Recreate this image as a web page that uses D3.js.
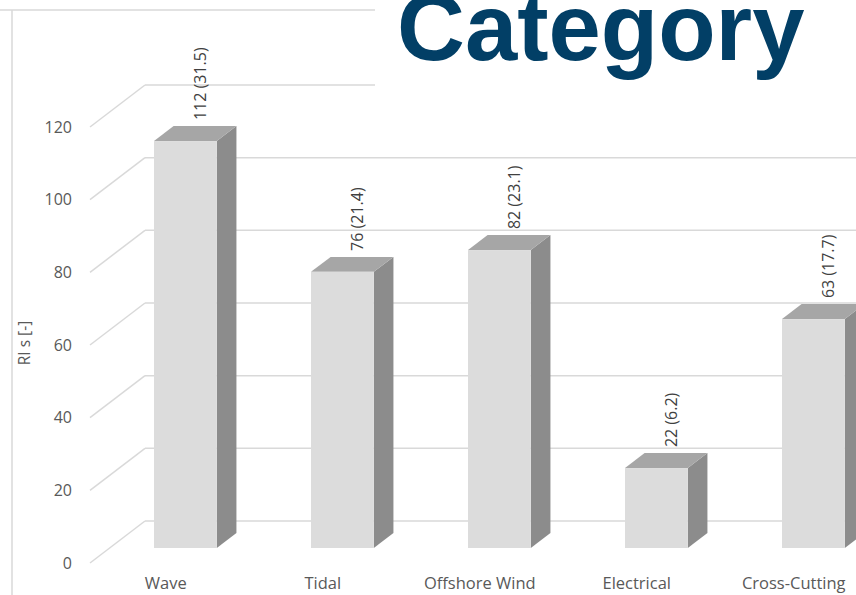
<!DOCTYPE html>
<html>
<head>
<meta charset="utf-8">
<script src="https://cdn.jsdelivr.net/npm/d3@7/dist/d3.min.js"></script>
<style>
  html, body { margin: 0; padding: 0; background: #fff; }
  svg { display: block; }
</style>
</head>
<body>
<svg id="chart" width="856" height="595"></svg>
<script>
// ---- data ----
const categories = ["Wave", "Tidal", "Offshore Wind", "Electrical", "Cross-Cutting"];
const values = [112, 76, 82, 22, 63];
const percents = ["31.5", "21.4", "23.1", "6.2", "17.7"];
const yTicks = [0, 20, 40, 60, 80, 100, 120];
const yTitle = "RI s [-]";
const titleText = "Category";

// ---- layout ----
const W = 856, H = 595;
const svg = d3.select("#chart");

// back wall vertical scale
const y = d3.scaleLinear().domain([0, 120]).range([521, 85]);
// oblique depth: full floor depth shift
const depthDx = 55, depthDy = 42;
const floorFrontX = 90;
// bar plane band scale (x at bar front plane)
const x = d3.scaleBand().domain(categories).range([106.9, 891.9]).paddingInner(0.6).paddingOuter(0.3);
const barD0 = 0.357, barD1 = 0.714;

const grid = "#d9d9d9";

// chart border lines
svg.append("line").attr("x1", 0).attr("x2", 375).attr("y1", 10).attr("y2", 10)
  .attr("stroke", grid).attr("stroke-width", 1.5);
svg.append("line").attr("x1", 12).attr("x2", 12).attr("y1", 10).attr("y2", H)
  .attr("stroke", grid).attr("stroke-width", 1.5);

// gridlines: back wall horizontal + left side wall diagonal
const gG = svg.append("g");
yTicks.forEach(t => {
  gG.append("line")
    .attr("x1", floorFrontX + depthDx).attr("x2", W + 10)
    .attr("y1", y(t)).attr("y2", y(t))
    .attr("stroke", grid).attr("stroke-width", 1.5);
  gG.append("line")
    .attr("x1", floorFrontX).attr("y1", y(t) + depthDy)
    .attr("x2", floorFrontX + depthDx).attr("y2", y(t))
    .attr("stroke", grid).attr("stroke-width", 1.5);
});

// tick labels
svg.append("g").selectAll("text").data(yTicks).join("text")
  .attr("x", 72).attr("y", d => y(d) + depthDy)
  .attr("dy", "0.35em")
  .attr("text-anchor", "end")
  .attr("font-family", "'Open Sans', sans-serif")
  .attr("font-size", 16)
  .attr("fill", "#595959")
  .text(d => d);

// y title
svg.append("text")
  .attr("transform", "translate(25,343) rotate(-90)")
  .attr("dy", "0.35em")
  .attr("text-anchor", "middle")
  .attr("font-family", "'Open Sans', sans-serif")
  .attr("font-size", 15.5)
  .attr("fill", "#595959")
  .text(yTitle);

// bars
const data = categories.map((c, i) => ({ c, v: values[i], p: percents[i] }));
const bw = x.bandwidth();
const shiftX = depthDx * (barD1 - barD0), shiftY = depthDy * (barD1 - barD0);
const bars = svg.append("g").selectAll("g").data(data).join("g");

// side face
bars.append("path")
  .attr("fill", "#8c8c8c")
  .attr("d", d => {
    const x0 = x(d.c) + bw, yb = y(0) + depthDy * (1 - barD0), yt = y(d.v) + depthDy * (1 - barD0);
    return `M${x0},${yb}L${x0},${yt}L${x0 + shiftX},${yt - shiftY}L${x0 + shiftX},${yb - shiftY}Z`;
  });
// top face
bars.append("path")
  .attr("fill", "#a6a6a6")
  .attr("d", d => {
    const x0 = x(d.c), yt = y(d.v) + depthDy * (1 - barD0);
    return `M${x0},${yt}L${x0 + bw},${yt}L${x0 + bw + shiftX},${yt - shiftY}L${x0 + shiftX},${yt - shiftY}Z`;
  });
// front face
bars.append("rect")
  .attr("fill", "#dcdcdc")
  .attr("x", d => x(d.c))
  .attr("width", bw)
  .attr("y", d => y(d.v) + depthDy * (1 - barD0))
  .attr("height", d => y(0) - y(d.v));

// data labels
bars.append("text")
  .attr("transform", d => {
    const cx = x(d.c) + bw / 2 + 15;
    const yb = y(d.v) + depthDy * (1 - barD0) - shiftY - 6;
    return `translate(${cx},${yb}) rotate(-90)`;
  })
  .attr("dy", "0.35em")
  .attr("text-anchor", "start")
  .attr("font-family", "'Open Sans', sans-serif")
  .attr("font-size", 16)
  .attr("fill", "#404040")
  .text(d => `${d.v} (${d.p})`);

// category labels on floor front edge
svg.append("g").selectAll("text").data(categories).join("text")
  .attr("x", d => x(d) + bw / 2 - depthDx * barD0)
  .attr("y", 589)
  .attr("text-anchor", "middle")
  .attr("font-family", "'Open Sans', sans-serif")
  .attr("font-size", 16.5)
  .attr("fill", "#595959")
  .text(d => d);

// title with white box
svg.append("rect").attr("x", 375).attr("y", 0).attr("width", W - 375).attr("height", 110).attr("fill", "#fff");
svg.append("text")
  .attr("x", 397).attr("y", 60)
  .attr("font-family", "'Liberation Sans', Arial, sans-serif")
  .attr("font-weight", "bold")
  .attr("font-size", 94)
  .attr("fill", "#023f66")
  .text(titleText);
</script>
</body>
</html>
